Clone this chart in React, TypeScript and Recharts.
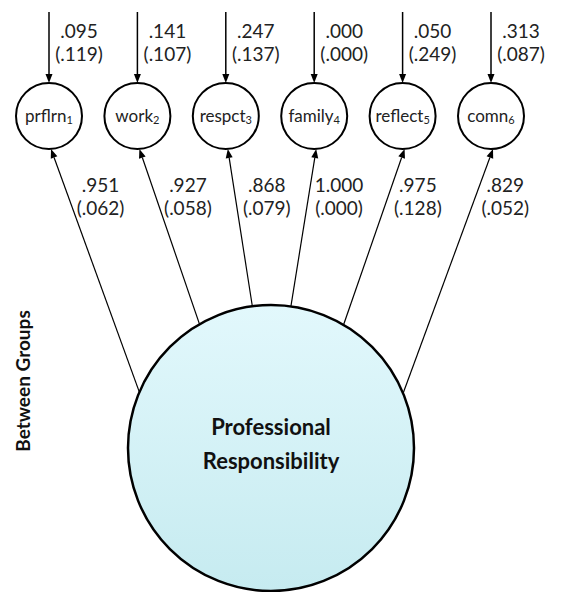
import React from 'react';
import { ScatterChart, Scatter, XAxis, YAxis } from 'recharts';

// ---- data ----
const INDICATORS = ['prflrn', 'work', 'respct', 'family', 'reflect', 'comn'];
const RESIDUALS = [0.095, 0.141, 0.247, 0.0, 0.05, 0.313];
const RESIDUAL_SE = [0.119, 0.107, 0.137, 0.0, 0.249, 0.087];
const LOADINGS = [0.951, 0.927, 0.868, 1.0, 0.975, 0.829];
const LOADING_SE = [0.062, 0.058, 0.079, 0.0, 0.128, 0.052];
const FACTOR_LABEL = ['Professional', 'Responsibility'];
const GROUP_LABEL = 'Between Groups';

// ---- layout ----
const W = 565;
const H = 592;
const PAD_L = 49;
const PAD_R = 74;
const NODE_CY = 116;
const NODE_R = 33;
const RESID_TOP = 12;
const LATENT_CY = 448;
const LATENT_R = 143;
const ANCHOR_ANGLES = [-67, -30, -7.5, 8, 30.5, 67.5];
const LOAD_LABEL_Y = 200;
const FONT = 'Lato, "Open Sans", sans-serif';
const NUM_SIZE = 19;
const N = INDICATORS.length;

const fmt = (v: number) => v.toFixed(3).replace(/^0\./, '.');

const indicatorRows = INDICATORS.map((name, idx) => ({
  name,
  idx,
  resid: RESIDUALS[idx],
  residSE: RESIDUAL_SE[idx],
  loading: LOADINGS[idx],
  loadingSE: LOADING_SE[idx],
}));
const latentRows = [{ name: FACTOR_LABEL.join(' '), pos: 0.5 }];

function arrowHead(tx: number, ty: number, fromX: number, fromY: number, len = 9, half = 3.5) {
  const dx = tx - fromX;
  const dy = ty - fromY;
  const L = Math.sqrt(dx * dx + dy * dy) || 1;
  const ux = dx / L;
  const uy = dy / L;
  const bx = tx - ux * len;
  const by = ty - uy * len;
  const px = -uy;
  const py = ux;
  return {
    points: `${tx},${ty} ${bx + px * half},${by + py * half} ${bx - px * half},${by - py * half}`,
    bx,
    by,
  };
}

function IndicatorShape(props: any) {
  const { cx, cy, payload } = props;
  const i = payload.idx;
  const step = (W - PAD_L - PAD_R) / (N - 1);
  const fx = cx + ((N - 1) / 2 - i) * step + 1;
  const fy = LATENT_CY;
  const a = (ANCHOR_ANGLES[i] * Math.PI) / 180;
  const sx = fx + LATENT_R * Math.sin(a);
  const sy = fy - LATENT_R * Math.cos(a);
  const ex = cx + 2;
  const ey = cy + NODE_R;
  const head = arrowHead(ex, ey, sx, sy);
  const t = (sy - LOAD_LABEL_Y) / (sy - ey);
  const lx = sx + (ex - sx) * t + 31;

  const rTip = cy - NODE_R;
  const rHead = arrowHead(cx, rTip, cx, RESID_TOP);

  return (
    <g fontFamily={FONT}>
      {/* residual arrow */}
      <line x1={cx} y1={RESID_TOP} x2={cx} y2={rHead.by} stroke="#000" strokeWidth={1.5} />
      <polygon points={rHead.points} fill="#000" />
      <text x={cx + 30} y={38} textAnchor="middle" fontSize={NUM_SIZE} fill="#222">
        {fmt(payload.resid)}
      </text>
      <text x={cx + 30} y={61} textAnchor="middle" fontSize={NUM_SIZE} fill="#222">
        ({fmt(payload.residSE)})
      </text>
      {/* indicator node */}
      <circle cx={cx} cy={cy} r={NODE_R} fill="#fff" stroke="#000" strokeWidth={2} />
      <text x={cx} y={cy + 6} textAnchor="middle" fontSize={17} fill="#222">
        {payload.name}
        <tspan fontSize={11} dy={2}>
          {i + 1}
        </tspan>
      </text>
      {/* loading path */}
      <line x1={sx} y1={sy} x2={head.bx} y2={head.by} stroke="#000" strokeWidth={1.2} />
      <polygon points={head.points} fill="#000" />
      <text x={lx} y={LOAD_LABEL_Y - 8} textAnchor="middle" fontSize={NUM_SIZE} fill="#222">
        {fmt(payload.loading)}
      </text>
      <text x={lx} y={LOAD_LABEL_Y + 15} textAnchor="middle" fontSize={NUM_SIZE} fill="#222">
        ({fmt(payload.loadingSE)})
      </text>
    </g>
  );
}

function LatentShape(props: any) {
  const { cx, cy } = props;
  const x = cx + 1;
  return (
    <g fontFamily={FONT}>
      <defs>
        <linearGradient id="latentFill" x1="0" y1="0" x2="0" y2="1">
          <stop offset="0%" stopColor="#E2F8FC" />
          <stop offset="100%" stopColor="#C6EBF0" />
        </linearGradient>
      </defs>
      <circle cx={x} cy={cy} r={LATENT_R} fill="url(#latentFill)" stroke="#000" strokeWidth={2.5} />
      <text x={x} y={cy - 13} textAnchor="middle" fontSize={22} fontWeight="bold" fill="#111">
        {FACTOR_LABEL[0]}
      </text>
      <text x={x} y={cy + 21} textAnchor="middle" fontSize={22} fontWeight="bold" fill="#111">
        {FACTOR_LABEL[1]}
      </text>
      <text
        x={30}
        y={381}
        transform="rotate(-90 30 381)"
        textAnchor="middle"
        fontSize={19}
        fontWeight="bold"
        fill="#111"
      >
        {GROUP_LABEL}
      </text>
    </g>
  );
}

export default function App() {
  return (
    <div style={{ position: 'absolute', left: 0, top: 0, width: W, height: H, background: '#fff' }}>
      <ScatterChart width={W} height={H} margin={{ top: 0, right: 0, bottom: 0, left: 0 }}>
        <XAxis
          xAxisId="ind"
          dataKey="name"
          type="category"
          scale="point"
          allowDuplicatedCategory={false}
          padding={{ left: PAD_L, right: PAD_R }}
          hide
        />
        <XAxis
          xAxisId="lat"
          dataKey="pos"
          type="number"
          domain={[0, 1]}
          padding={{ left: PAD_L, right: PAD_R }}
          hide
        />
        <YAxis
          yAxisId="y"
          type="number"
          dataKey={(d: any) => (d.pos !== undefined ? LATENT_CY : NODE_CY)}
          domain={[0, H]}
          reversed
          hide
        />
        <Scatter
          xAxisId="ind"
          yAxisId="y"
          data={indicatorRows}
          shape={<IndicatorShape />}
          isAnimationActive={false}
        />
        <Scatter
          xAxisId="lat"
          yAxisId="y"
          data={latentRows}
          shape={<LatentShape />}
          isAnimationActive={false}
        />
      </ScatterChart>
    </div>
  );
}
